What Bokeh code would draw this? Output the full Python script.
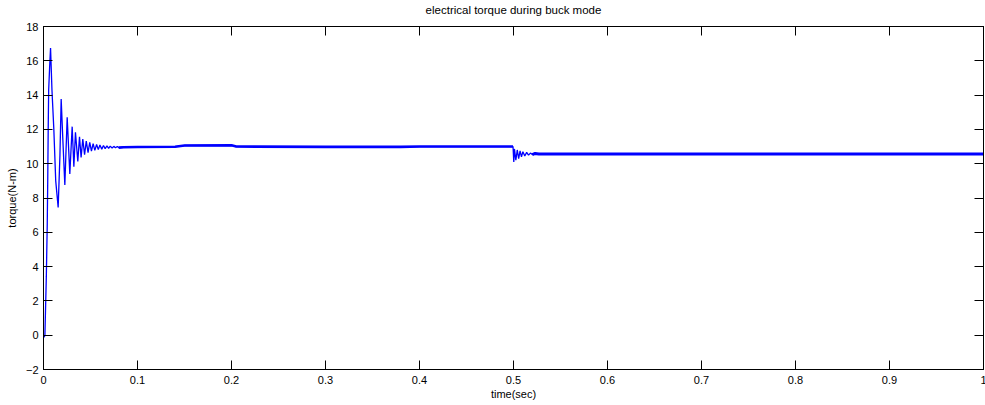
from bokeh.plotting import figure
from bokeh.models import Range1d, LinearAxis, FixedTicker, CustomLabelingPolicy
from bokeh.embed import file_html
from bokeh.resources import INLINE

# ---- data ----
time_s = [0.0, 0.0008, 0.0015, 0.003, 0.004, 0.0045, 0.005, 0.0055, 0.0065, 0.0075,
          0.009, 0.011, 0.013, 0.0156, 0.0175, 0.0188, 0.0205, 0.0227, 0.0252, 0.028,
          0.0305, 0.0323, 0.034, 0.0365, 0.0383, 0.0400, 0.0418, 0.0437, 0.0455, 0.0474,
          0.0492, 0.0510, 0.0528, 0.0546, 0.0565, 0.0583, 0.0600, 0.0620, 0.0638, 0.0656,
          0.0675, 0.0693, 0.0710, 0.0730, 0.0748, 0.0766, 0.0785, 0.0800, 0.0850, 0.1000,
          0.1400, 0.1500, 0.2000, 0.2050, 0.3000, 0.3800, 0.4000, 0.4995,
          0.5003, 0.5010, 0.5025, 0.5040, 0.5055, 0.5070, 0.5085, 0.5100, 0.5120, 0.5140,
          0.5160, 0.5180, 0.5200, 0.5230, 0.5270, 0.6000, 0.7000, 0.8000, 0.9000, 1.0000]
torque_nm = [-0.1, -0.1, 0.0, 3.4, 6.5, 9.0, 12.0, 14.3, 15.6, 16.75,
             14.3, 12.0, 9.0, 7.45, 10.5, 13.77, 11.5, 8.76, 12.7, 9.4,
             12.16, 9.82, 11.83, 10.13, 11.57, 10.37, 11.44, 10.52, 11.32, 10.65,
             11.24, 10.73, 11.17, 10.78, 11.12, 10.82, 11.09, 10.85, 11.06, 10.88,
             11.04, 10.90, 11.02, 10.92, 11.01, 10.93, 11.00, 10.94, 10.96, 10.97,
             10.99, 11.06, 11.07, 11.00, 10.98, 10.98, 11.00, 11.00,
             10.10, 10.86, 10.20, 10.80, 10.30, 10.75, 10.40, 10.70, 10.45, 10.66,
             10.50, 10.62, 10.53, 10.60, 10.57, 10.57, 10.56, 10.56, 10.56, 10.56]

x_ticks = [0, 0.1, 0.2, 0.3, 0.4, 0.5, 0.6, 0.7, 0.8, 0.9, 1]
y_ticks = [-2, 0, 2, 4, 6, 8, 10, 12, 14, 16, 18]

title_text = "electrical torque during buck mode"
x_label = "time(sec)"
y_label = "torque(N-m)"

FONT = "Liberation Sans"

p = figure(width=985, height=405, output_backend="svg", toolbar_location=None,
           x_range=Range1d(0, 1), y_range=Range1d(-2, 18),
           frame_width=940, frame_height=343,
           min_border_left=43, min_border_right=2, min_border_top=26, min_border_bottom=36)

p.background_fill_color = "white"
p.border_fill_color = "white"
p.outline_line_color = "#000000"
p.outline_line_width = 1
p.xgrid.visible = False
p.ygrid.visible = False

# main trace
p.line(time_s, torque_nm, line_color="#0000ff", line_width=1.3)
# steady-state ripple band (thicker)
ss_t = [t for t in time_s if t >= 0.08 and t < 0.4999]
ss_v = [v for t, v in zip(time_s, torque_nm) if t >= 0.08 and t < 0.4999]
p.line(ss_t, ss_v, line_color="#0000ff", line_width=2.6)
ss2_t = [t for t in time_s if t >= 0.52]
ss2_v = [v for t, v in zip(time_s, torque_nm) if t >= 0.52]
p.line(ss2_t, ss2_v, line_color="#0000ff", line_width=3)


def style_axis(ax, ticks):
    ax.ticker = FixedTicker(ticks=ticks)
    ax.minor_tick_line_color = None
    ax.major_tick_in = 9
    ax.major_tick_out = 0
    ax.major_tick_line_color = "#000000"
    ax.axis_line_color = "#000000"
    ax.major_label_text_font = FONT
    ax.major_label_text_font_size = "11px"
    ax.major_label_text_color = "#000000"
    ax.axis_label_text_font = FONT
    ax.axis_label_text_font_size = "11px"
    ax.axis_label_text_font_style = "normal"
    ax.axis_label_text_color = "#000000"


style_axis(p.xaxis[0], x_ticks)
style_axis(p.yaxis[0], y_ticks)
p.xaxis[0].axis_label = x_label
p.yaxis[0].axis_label = y_label
p.xaxis[0].major_label_standoff = 6
p.yaxis[0].major_label_standoff = 5
p.xaxis[0].axis_label_standoff = 1
p.yaxis[0].axis_label_standoff = 5

# box ticks on top and right, without labels; the title sits on the top axis
no_labels = CustomLabelingPolicy(code="for (const i of indices) { if (i < 0) yield i }")
top_ax = LinearAxis(major_label_policy=no_labels)
right_ax = LinearAxis(major_label_policy=no_labels)
style_axis(top_ax, x_ticks)
style_axis(right_ax, y_ticks)
for ax in (top_ax, right_ax):
    ax.major_label_standoff = 0
    ax.major_label_text_font_size = "1px"
top_ax.axis_label = title_text
top_ax.axis_label_text_font_size = "11.5px"
top_ax.axis_label_standoff = 7
p.add_layout(top_ax, "above")
p.add_layout(right_ax, "right")

open("out.html", "w").write(file_html(p, INLINE))
